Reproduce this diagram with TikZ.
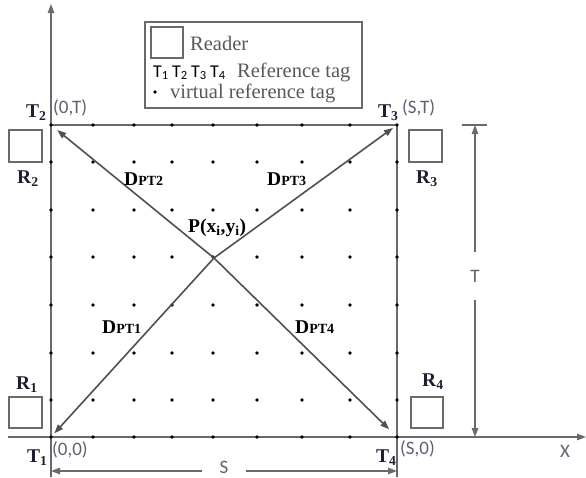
\documentclass[tikz,border=0pt]{standalone}
\usepackage{fontspec}
\setmainfont{Liberation Serif}
\newfontfamily\calib{Carlito}
\usetikzlibrary{arrows.meta}
\definecolor{axiscol}{HTML}{6A6A6A}
\definecolor{diagcol}{HTML}{505050}
\definecolor{lblcol}{HTML}{1E1E30}
\definecolor{crdcol}{HTML}{5C6272}
\definecolor{legcol}{HTML}{585858}
\newcommand{\lowsub}[1]{\raisebox{-2pt}{\fontsize{12.5}{12.5}\selectfont #1}}
\begin{document}
\begin{tikzpicture}[x=1pt,y=-1pt,
  tip/.style={-{Triangle[length=9pt,width=6.5pt]}},
  axisline/.style={draw=axiscol,line width=1.2pt},
  diagline/.style={draw=diagcol,line width=1.6pt,tip},
  boldlbl/.style={font=\fontsize{19.5}{19.5}\selectfont\bfseries,text=lblcol,inner sep=0pt,anchor=base west},
  dlbl/.style={font=\fontsize{19.5}{19.5}\selectfont\bfseries,text=black,inner sep=0pt,anchor=base west},
  crd/.style={font=\calib\fontsize{19}{19}\selectfont,text=crdcol,inner sep=0pt,anchor=base west},
  legtext/.style={font=\fontsize{20.5}{20.5}\selectfont,text=legcol,inner sep=0pt,anchor=base west},
  legtag/.style={font=\calib\fontsize{18}{18}\selectfont,text=black,inner sep=0pt,anchor=base west},
  dimlbl/.style={font=\calib\fontsize{19}{19}\selectfont,text=crdcol,inner sep=0pt},
  readerbox/.style={draw=axiscol,line width=1.2pt},
  gdot/.style={fill=black}
]
\useasboundingbox (0,0) rectangle (586,477);

% corner coordinates
\coordinate (T1) at (51,437);
\coordinate (T2) at (51,125);
\coordinate (T3) at (397,125);
\coordinate (T4) at (397,437);
\coordinate (P) at (214,258);

% axes
\coordinate (ybot) at (51,477);
\coordinate (ytop) at (51,4);
\coordinate (xl) at (8,437);
\coordinate (xr) at (586,437);
\draw[axisline,tip] (ybot) -- (ytop);
\draw[axisline,tip] (xl) -- (xr);
\node[font=\calib\fontsize{19}{19}\selectfont,text=crdcol,inner sep=0pt,anchor=base west] (xlab) at (560,457) {X};

% border of area
\coordinate (rbot) at (397,477);
\draw[axisline] (T2) -- (T3) -- (rbot);

% grid of virtual reference tags
\foreach \gx in {51,93,134,172,213,257,302,350,397}
  \foreach \gy in {125,162,210,257,305,353,400,437}
    \fill[gdot] (\gx,\gy) circle (1.8pt);

% diagonals
\draw[diagline,shorten >=8pt] (P) -- (T2);
\draw[diagline,shorten >=5pt] (P) -- (T3);
\draw[diagline,shorten >=5pt] (P) -- (T1);
\draw[diagline,shorten >=11pt] (P) -- (T4);

% labels of corners
\node[boldlbl] (t2lab) at (26,117) {T\textsubscript{2}};
\node[crd] (c2lab) at (53,113) {(0,T)};
\node[boldlbl] (t3lab) at (378,117) {T\textsubscript{3}};
\node[crd] (c3lab) at (402,113) {(S,T)};
\node[boldlbl] (t1lab) at (27,462) {T\textsubscript{1}};
\node[crd] (c1lab) at (52,455) {(0,0)};
\node[boldlbl] (t4lab) at (376,462) {T\textsubscript{4}};
\node[crd] (c4lab) at (400,454) {(S,0)};

% readers
\draw[readerbox] (9,130) rectangle (42,162);
\node[boldlbl] (r2lab) at (17,183) {R\textsubscript{2}};
\draw[readerbox] (409,130) rectangle (442,162);
\node[boldlbl] (r3lab) at (416,183) {R\textsubscript{3}};
\draw[readerbox] (9,397) rectangle (42,428);
\node[boldlbl] (r1lab) at (16,389) {R\textsubscript{1}};
\draw[readerbox] (411,397) rectangle (443,428);
\node[boldlbl] (r4lab) at (422,386) {R\textsubscript{4}};

% distance labels
\node[dlbl] (d2) at (124,185) {D{\fontsize{14}{14}\selectfont PT2}};
\node[dlbl] (d3) at (267,185) {D{\fontsize{14}{14}\selectfont PT3}};
\node[dlbl] (d1) at (102,333) {D{\fontsize{14}{14}\selectfont PT1}};
\node[dlbl] (d4) at (295,333) {D{\fontsize{14}{14}\selectfont PT4}};
\node[dlbl] (plab) at (188,232) {P(x\textsubscript{i},y\textsubscript{i})};

% T dimension
\coordinate (ttop) at (475,125);
\coordinate (tbot) at (475,437);
\draw[axisline] (462,125) -- (487,125);
\node[dimlbl,minimum height=48pt] (tlab) at (475,276) {T};
\draw[axisline,tip] (tlab.north) -- (ttop);
\draw[axisline,tip] (tlab.south) -- (tbot);

% S dimension
\coordinate (sl) at (51,471);
\coordinate (sr) at (397,471);
\node[dimlbl,minimum width=44pt] (slab) at (224,467) {S};
\draw[axisline,tip] (slab.west |- sl) -- (sl);
\draw[axisline,tip] (slab.east |- sr) -- (sr);

% legend
\draw[readerbox] (145,22) rectangle (362,108);
\draw[readerbox] (151,27) rectangle (183,58);
\node[legtext] (legr) at (190,50) {Reader};
\node[legtag] (lt1) at (153,77) {T\lowsub{1}};
\node[legtag] (lt2) at (172,77) {T\lowsub{2}};
\node[legtag] (lt3) at (191,77) {T\lowsub{3}};
\node[legtag] (lt4) at (210,77) {T\lowsub{4}};
\node[legtext] (legref) at (237,77) {Reference tag};
\fill[gdot] (155,92) circle (1.8pt);
\node[legtext] (legv) at (170,98) {virtual reference tag};
\end{tikzpicture}
\end{document}
